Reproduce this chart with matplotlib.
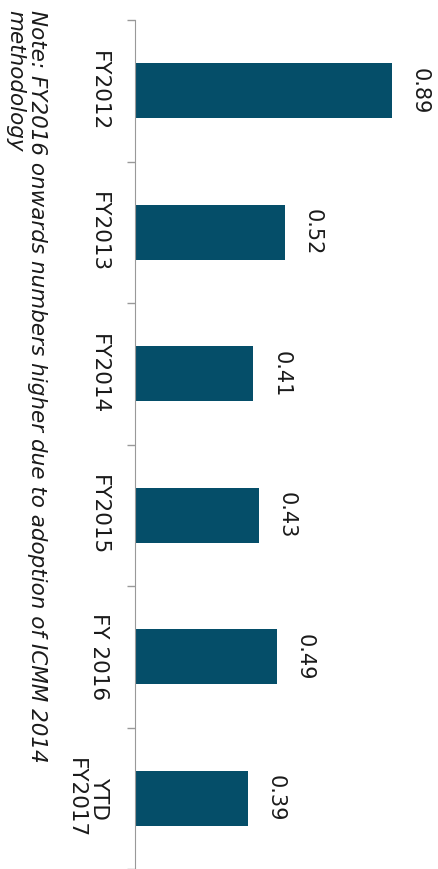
import matplotlib.pyplot as plt

categories = ["FY2012", "FY2013", "FY2014", "FY2015", "FY 2016", "YTD\nFY2017"]
values = [0.89, 0.52, 0.41, 0.43, 0.49, 0.39]
note = "Note: FY2016 onwards numbers higher due to adoption of ICMM 2014\nmethodology"

BAR_COLOR = "#054e69"


def main():
    fig = plt.figure(figsize=(4.38, 8.69), dpi=100)
    # axes: left edge at the baseline, top at the first tick
    ax = fig.add_axes([135 / 438, 0.0, 303 / 438, 1 - 20 / 869])

    pos = list(range(len(categories)))
    ax.barh(pos, values, height=0.39, color=BAR_COLOR)

    # one category step ~144 px
    ax.set_ylim(-0.5 + 849 / 144, -0.5)
    ax.set_xlim(0, 303 / 289)

    for p, v in zip(pos, values):
        ax.annotate(f"{v:.2f}", (v, p), xytext=(20, 0), textcoords="offset points",
                    rotation=-90, ha="center", va="center", fontsize=15, color="#1a1a1a")

    # ticks between categories, labels at the centres
    ax.set_yticks([p - 0.5 for p in pos] + [len(pos) - 0.5])
    ax.set_yticklabels([])
    ax.set_yticks(pos, minor=True)
    ax.set_yticklabels(categories, minor=True, rotation=-90, fontsize=15.5, va="center",
                       multialignment="center", color="#1a1a1a")
    ax.tick_params(axis="y", which="major", length=6, color="#999999", width=1)
    ax.tick_params(axis="y", which="minor", length=0, pad=19)

    ax.set_xticks([])
    for side in ["top", "right", "bottom"]:
        ax.spines[side].set_visible(False)
    ax.spines["left"].set_color("#999999")

    fig.text(26 / 438, 1 - 10 / 869, note, rotation=-90, ha="center", va="top",
             multialignment="left", fontsize=15.5, style="italic", color="#1a1a1a",
             linespacing=1.1)

    fig.savefig("out.png", dpi=100)


if __name__ == "__main__":
    main()
